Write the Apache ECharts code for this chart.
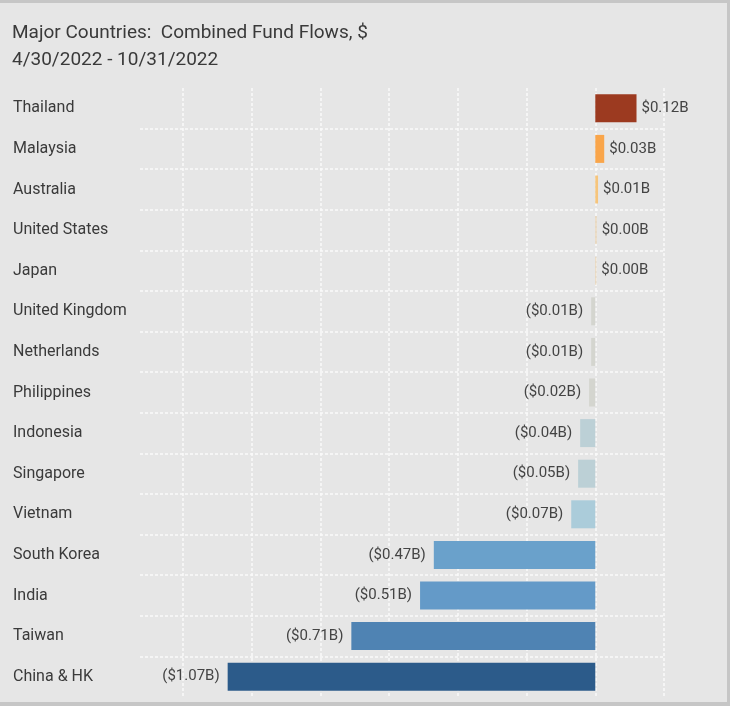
<!DOCTYPE html>
<html>
<head>
<meta charset="utf-8">
<script src="https://cdn.jsdelivr.net/npm/echarts@6/dist/echarts.min.js"></script>
<style>
  html, body { margin: 0; padding: 0; background: #fff; }
  #frame {
    position: absolute; left: 0; top: 0; width: 730px; height: 706px;
    box-sizing: border-box; background: #e6e6e6;
    border-top: 3px solid #c6c6c6; border-right: 3px solid #c6c6c6; border-bottom: 4px solid #c6c6c6;
  }
  #chart { position: absolute; left: 0; top: 0; width: 730px; height: 707px; }
</style>
</head>
<body>
<div id="frame"></div>
<div id="chart"></div>
<script>
// data, top to bottom as drawn
var countries = ['Thailand', 'Malaysia', 'Australia', 'United States', 'Japan', 'United Kingdom',
  'Netherlands', 'Philippines', 'Indonesia', 'Singapore', 'Vietnam', 'South Korea', 'India',
  'Taiwan', 'China & HK']
var flows = [0.12, 0.026, 0.008, 0.004, 0.003, -0.012, -0.012, -0.018, -0.044, -0.05, -0.07,
  -0.47, -0.51, -0.71, -1.07]
var barColors = ['#9c3a20', '#f9a54a', '#f6c57c', '#e7d3b4', '#e7d3b4', '#d4d5cf', '#d4d5cf',
  '#d4d5cf', '#bcd0d6', '#bcd0d6', '#abccda', '#6aa1cb', '#649ac8', '#4f83b3', '#2c5b8a']

var title = 'Major Countries:  Combined Fund Flows, $'
var subtitle = '4/30/2022 - 10/31/2022'

var font = 'Roboto'
var gridLine = { color: '#fafafa', width: 1.5, type: [3, 2] }

function money(v) {
  var s = '$' + Math.abs(v).toFixed(2) + 'B'
  return v < 0 ? '(' + s + ')' : s
}

var chart = echarts.init(document.getElementById('chart'))
chart.setOption({
  animation: false,
  textStyle: { fontFamily: font },
  title: {
    text: title + '\n' + subtitle,
    left: 7,
    top: 15,
    textStyle: { fontFamily: font, fontSize: 19, fontWeight: 'normal', color: '#3a3a3a', lineHeight: 27 }
  },
  grid: [
    // row separators + category labels
    { left: 140, right: 66, top: 88, height: 609 },
    // value area
    { left: 183, right: 66, top: 88, height: 609 }
  ],
  xAxis: [
    { gridIndex: 0, type: 'value', min: 0, max: 1, show: false, splitLine: { show: false } },
    {
      gridIndex: 1, type: 'value', min: -1.2, max: 0.2, interval: 0.2,
      axisLine: { show: false }, axisTick: { show: false }, axisLabel: { show: false },
      splitLine: { show: true, lineStyle: gridLine }
    }
  ],
  yAxis: [
    {
      gridIndex: 0, type: 'category', data: countries, inverse: true,
      axisLine: { show: false }, axisTick: { show: false },
      axisLabel: { align: 'left', margin: 127, fontSize: 16, color: '#3a3a3a', fontFamily: font },
      splitLine: { show: true, showMinLine: false, showMaxLine: false, lineStyle: gridLine }
    },
    {
      gridIndex: 1, type: 'category', data: countries, inverse: true,
      axisLine: { show: false }, axisTick: { show: false }, axisLabel: { show: false },
      splitLine: { show: false }
    }
  ],
  series: [{
    type: 'bar',
    xAxisIndex: 1,
    yAxisIndex: 1,
    barWidth: 28,
    data: flows.map(function (v, i) {
      return {
        value: v,
        itemStyle: { color: barColors[i] },
        label: { position: v < 0 ? 'left' : 'right', distance: v < 0 ? 8 : 5 }
      }
    }),
    label: {
      show: true,
      fontSize: 15,
      color: '#444',
      fontFamily: font,
      formatter: function (p) { return money(p.value) }
    }
  }]
})
</script>
</body>
</html>
